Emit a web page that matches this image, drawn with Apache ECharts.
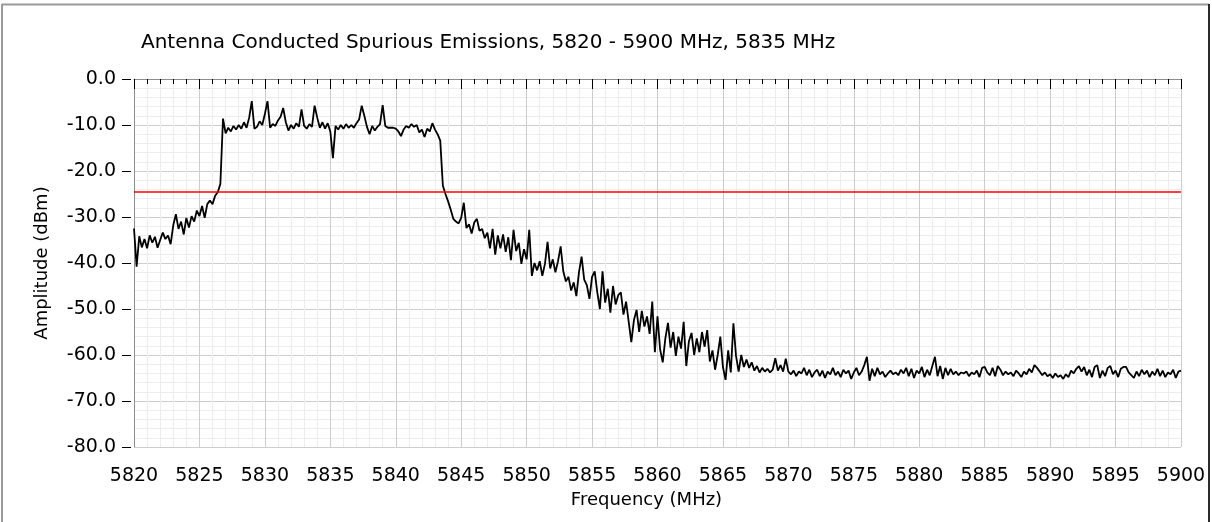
<!DOCTYPE html>
<html>
<head>
<meta charset="utf-8">
<title>Antenna Conducted Spurious Emissions</title>
<script src="https://cdn.jsdelivr.net/npm/echarts@6/dist/echarts.min.js"></script>
<style>
  html, body { margin: 0; padding: 0; background: #ffffff; }
  #chart { width: 1212px; height: 522px; }
</style>
</head>
<body>
<div id="chart"></div>
<script>
// Sweep settings: 5820 - 5900 MHz, one sample every 0.2 MHz
const FREQ_START = 5820;
const FREQ_STEP = 0.2;
const LIMIT_DBM = -24.5;

const TITLE = 'Antenna Conducted Spurious Emissions, 5820 - 5900 MHz, 5835 MHz';
const X_NAME = 'Frequency (MHz)';
const Y_NAME = 'Amplitude (dBm)';

// Lower skirt, 5820.0 - 5826.8 MHz
const lowerSkirt = [
  -32.5, -40.8, -34.2, -36.6, -34.8, -36.8, -34.0, -35.6, -34.3, -36.7,
  -35.0, -33.4, -34.8, -34.0, -35.9, -31.8, -29.4, -32.6, -31.0, -33.8,
  -30.2, -32.3, -29.8, -31.0, -28.6, -29.8, -27.6, -30.2, -27.2, -26.4,
  -27.2, -25.4, -24.6, -22.8, -8.6
];

// Occupied band, 5827.0 - 5843.4 MHz
const inBand = [
  -11.8, -10.6, -11.4, -10.2, -11.0, -10.0, -10.8, -9.4, -10.6, -8.4,
  -4.8, -10.8, -10.4, -9.2, -10.0, -7.6, -4.8, -10.6, -9.8, -10.2,
  -9.0, -8.2, -6.3, -9.4, -11.2, -10.0, -10.8, -9.6, -10.4, -6.6,
  -10.2, -10.8, -9.8, -10.4, -5.8, -8.4, -10.6, -9.4, -10.8, -9.6,
  -11.4, -17.2, -10.2, -11.0, -10.0, -10.8, -9.8, -10.6, -10.0, -10.6,
  -9.6, -8.8, -5.8, -8.0, -10.4, -12.0, -10.2, -11.2, -10.4, -9.8,
  -5.7, -10.2, -10.6, -10.6, -10.6, -10.8, -11.4, -12.4, -11.0, -10.2,
  -10.6, -9.8, -10.4, -10.0, -11.6, -11.0, -12.6, -10.8, -11.4, -9.6,
  -11.0, -12.0, -13.4
];

// Upper skirt, 5843.6 - 5870.0 MHz
const upperSkirt = [
  -23.2, -25.0, -26.6, -28.4, -30.4, -31.0, -31.4, -30.2, -26.9, -32.4,
  -31.6, -33.6, -31.2, -30.4, -33.0, -32.6, -34.6, -33.4, -36.8, -32.6,
  -38.2, -34.0, -36.8, -33.8, -37.6, -34.4, -39.4, -32.8, -37.4, -35.6,
  -40.2, -37.0, -39.2, -32.8, -42.8, -40.0, -41.6, -39.6, -42.8, -40.2,
  -35.4, -41.2, -39.2, -42.0, -39.6, -36.4, -41.8, -44.0, -43.0, -46.0,
  -44.2, -47.2, -42.0, -38.6, -43.6, -44.8, -47.8, -43.0, -41.8, -46.4,
  -50.0, -41.8, -48.6, -45.6, -50.8, -45.0, -49.0, -47.0, -46.4, -51.2,
  -48.4, -52.8, -57.2, -52.4, -50.2, -55.0, -50.4, -53.8, -51.6, -55.4,
  -48.4, -59.4, -51.6, -58.8, -61.6, -56.4, -53.0, -58.4, -55.0, -60.2,
  -56.0, -58.6, -52.8, -62.4, -57.0, -55.2, -60.0, -56.4, -59.4, -55.0,
  -58.2, -54.6, -61.4, -59.0, -63.2, -60.0, -56.0, -62.6, -65.4, -59.0,
  -63.8, -53.1, -60.2, -63.6, -60.0, -62.6, -61.0, -62.8, -61.6, -63.4,
  -62.4, -63.8, -62.8, -63.6, -63.0, -63.8, -63.2, -60.7, -63.4, -62.2,
  -63.6, -60.8, -63.6
];

// Noise floor, 5870.2 - 5900.0 MHz
const noiseFloor = [
  -64.2, -63.4, -64.6, -63.6, -64.0, -62.8, -64.4, -63.2, -64.8, -63.8,
  -63.2, -64.6, -63.4, -65.0, -63.6, -64.2, -62.8, -64.4, -63.6, -64.8,
  -63.2, -64.0, -63.4, -65.2, -63.8, -62.8, -64.4, -63.6, -62.2, -60.4,
  -65.6, -63.0, -64.6, -62.8, -64.2, -63.6, -64.8, -64.0, -63.4, -64.2,
  -63.8, -64.4, -63.2, -64.0, -62.8, -64.6, -63.0, -65.0, -63.4, -64.0,
  -62.6, -64.8, -63.2, -64.4, -62.4, -60.4, -64.6, -62.4, -65.2, -62.8,
  -64.4, -63.0, -64.2, -63.6, -64.4, -63.8, -64.0, -63.6, -64.6, -63.8,
  -64.2, -63.4, -64.8, -62.8, -62.6, -63.8, -64.4, -62.8, -64.6, -62.4,
  -63.2, -64.4, -63.6, -64.2, -63.8, -64.6, -63.4, -64.0, -64.8, -63.6,
  -64.2, -63.0, -63.8, -62.2, -62.8, -63.6, -64.4, -63.8, -64.6, -64.2,
  -65.0, -64.0, -64.8, -64.4, -65.2, -64.2, -64.8, -63.4, -64.0, -63.0,
  -62.4, -63.6, -62.6, -64.4, -63.2, -64.8, -62.6, -62.2, -65.0, -63.4,
  -64.6, -62.8, -62.4, -64.2, -63.4, -64.8, -63.0, -62.6, -62.6, -63.8,
  -64.4, -65.0, -63.6, -64.6, -63.2, -64.2, -63.4, -64.8, -63.6, -64.4,
  -63.0, -64.6, -63.4, -64.8, -63.8, -64.2, -63.2, -65.0, -63.6, -63.4
];

const amplitude = [].concat(lowerSkirt, inBand, upperSkirt, noiseFloor);
const trace = amplitude.map((v, i) => [+(FREQ_START + i * FREQ_STEP).toFixed(1), v]);

const FONT = '"DejaVu Sans", Verdana, sans-serif';
const MAJOR_GRID = '#cdcdcd';
const MINOR_GRID = '#ededed';
const FRAME_GRAY = '#8e8e8e';

const chart = echarts.init(document.getElementById('chart'), null, { renderer: 'canvas' });

chart.setOption({
  animation: false,
  backgroundColor: '#ffffff',
  textStyle: { fontFamily: FONT },
  title: {
    text: TITLE,
    left: 141,
    top: 33,
    padding: 0,
    textStyle: { fontFamily: FONT, fontSize: 20, fontWeight: 'normal', color: '#000000' }
  },
  grid: { left: 134, right: 31, top: 79, bottom: 75, containLabel: false },
  xAxis: [
    {
      type: 'value',
      min: 5820,
      max: 5900,
      interval: 5,
      position: 'bottom',
      offset: 3,
      name: X_NAME,
      nameLocation: 'middle',
      nameGap: 38,
      nameTextStyle: { fontFamily: FONT, fontSize: 18, color: '#000000', padding: [0, 22, 0, 0] },
      axisLine: { show: false },
      axisTick: { show: true, length: 10, lineStyle: { color: '#000000', width: 1 } },
      minorTick: { show: true, splitNumber: 5, length: 5, lineStyle: { color: '#000000', width: 1 } },
      axisLabel: {
        fontFamily: FONT, fontSize: 19, color: '#000000', margin: 17,
        formatter: (v) => String(v)
      },
      splitLine: { show: true, lineStyle: { color: MAJOR_GRID, width: 1 } },
      minorSplitLine: { show: true, lineStyle: { color: MINOR_GRID, width: 1 } }
    },
    {
      type: 'value',
      min: 5820,
      max: 5900,
      position: 'top',
      axisLine: { show: true, lineStyle: { color: FRAME_GRAY, width: 1 } },
      axisTick: { show: false },
      axisLabel: { show: false },
      splitLine: { show: false }
    }
  ],
  yAxis: [
    {
      type: 'value',
      min: -80,
      max: 0,
      interval: 10,
      position: 'left',
      offset: 3,
      name: Y_NAME,
      nameLocation: 'middle',
      nameGap: 80,
      nameRotate: 90,
      nameTextStyle: { fontFamily: FONT, fontSize: 18, color: '#000000' },
      axisLine: { show: false },
      axisTick: { show: true, length: 9, lineStyle: { color: '#000000', width: 1 } },
      minorTick: { show: false, splitNumber: 5 },
      axisLabel: {
        fontFamily: FONT, fontSize: 19, color: '#000000', margin: 15,
        formatter: (v) => v.toFixed(1)
      },
      splitLine: { show: true, lineStyle: { color: MAJOR_GRID, width: 1 } },
      minorSplitLine: { show: true, lineStyle: { color: MINOR_GRID, width: 1 } }
    },
    {
      type: 'value',
      min: -80,
      max: 0,
      position: 'left',
      offset: 0,
      axisLine: { show: true, lineStyle: { color: FRAME_GRAY, width: 1 } },
      axisTick: { show: false },
      axisLabel: { show: false },
      splitLine: { show: false }
    }
  ],
  series: [
    {
      type: 'line',
      name: 'Spurious Emissions',
      xAxisIndex: 0,
      yAxisIndex: 0,
      data: trace,
      showSymbol: false,
      symbol: 'none',
      lineStyle: { color: '#000000', width: 1.8 },
      z: 3,
      markLine: {
        silent: true,
        symbol: 'none',
        label: { show: false },
        lineStyle: { color: '#ff0000', width: 1.6, type: 'solid' },
        data: [{ yAxis: LIMIT_DBM }]
      }
    }
  ],
  graphic: [
    { type: 'line', shape: { x1: 2, y1: 4.5, x2: 1209, y2: 4.5 }, style: { stroke: '#9a9a9a', lineWidth: 2 }, silent: true },
    { type: 'line', shape: { x1: 2, y1: 4, x2: 2, y2: 522 }, style: { stroke: '#9a9a9a', lineWidth: 2 }, silent: true },
    { type: 'line', shape: { x1: 1209, y1: 4, x2: 1209, y2: 522 }, style: { stroke: '#2a2a2a', lineWidth: 2 }, silent: true }
  ]
});
</script>
</body>
</html>
